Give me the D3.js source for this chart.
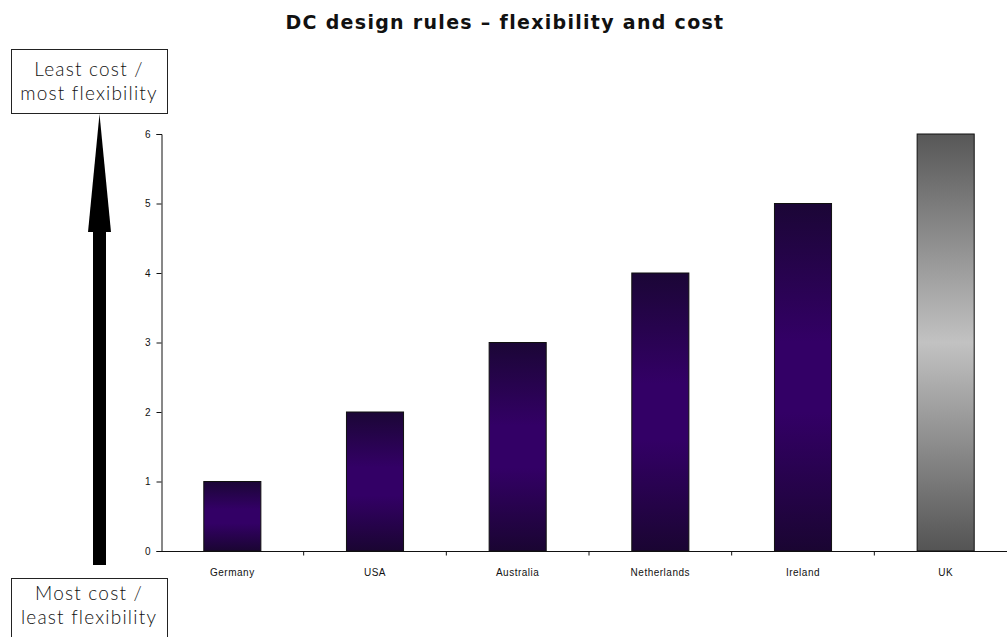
<!DOCTYPE html>
<html>
<head>
<meta charset="utf-8">
<script src="https://cdn.jsdelivr.net/npm/d3@7"></script>
<style>
  html, body { margin: 0; padding: 0; background: #fff; }
  svg { display: block; }
</style>
</head>
<body>
<svg id="chart" width="1007" height="637"></svg>
<script>
// Countries ranked by design-rule flexibility
const categories = ["Germany", "USA", "Australia", "Netherlands", "Ireland", "UK"];
const values = [1, 2, 3, 4, 5, 6];
const highlighted = ["UK"];
const yTicks = [0, 1, 2, 3, 4, 5, 6];
const titleText = "DC design rules \u2013 flexibility and cost";
const topLabel = ["Least cost /", "most flexibility"];
const bottomLabel = ["Most cost /", "least flexibility"];

const svg = d3.select("#chart");
const W = 1007, H = 637;
const margin = { left: 161, right: -10, top: 134, bottom: 86 };

const x = d3.scaleBand()
  .domain(categories)
  .range([margin.left, W - margin.right])
  .paddingInner(0.6)
  .paddingOuter(0.3);

const y = d3.scaleLinear()
  .domain([0, 6])
  .range([H - margin.bottom, margin.top]);

// Gradients
const defs = svg.append("defs");
const purple = defs.append("linearGradient").attr("id", "gPurple")
  .attr("x1", 0).attr("y1", 0).attr("x2", 0).attr("y2", 1);
[[0, "#1b0636"], [0.4, "#330066"], [0.6, "#330066"], [1, "#1a0532"]]
  .forEach(([o, c]) => purple.append("stop").attr("offset", o).attr("stop-color", c));
const gray = defs.append("linearGradient").attr("id", "gGray")
  .attr("x1", 0).attr("y1", 0).attr("x2", 0).attr("y2", 1);
[[0, "#575757"], [0.5, "#c2c2c2"], [1, "#545454"]]
  .forEach(([o, c]) => gray.append("stop").attr("offset", o).attr("stop-color", c));

// Title
svg.append("text")
  .attr("x", 505).attr("y", 29)
  .attr("text-anchor", "middle")
  .attr("font-family", "'DejaVu Sans', sans-serif")
  .attr("font-weight", "bold")
  .attr("font-size", 19)
  .attr("letter-spacing", 1.3)
  .attr("fill", "#111")
  .text(titleText);

// Bars
svg.append("g").selectAll("rect")
  .data(categories)
  .join("rect")
  .attr("x", d => x(d))
  .attr("width", x.bandwidth())
  .attr("y", (d, i) => y(values[i]))
  .attr("height", (d, i) => y(0) - y(values[i]))
  .attr("fill", d => highlighted.includes(d) ? "url(#gGray)" : "url(#gPurple)")
  .attr("stroke", "#111")
  .attr("stroke-width", 1);

// Y axis
const yAxis = d3.axisLeft(y).tickValues(yTicks).tickFormat(d3.format("d"))
  .tickSize(5).tickPadding(6);
const gy = svg.append("g").attr("transform", `translate(${margin.left + 0.5},0)`).call(yAxis);
gy.select(".domain").attr("stroke", "#111");
gy.selectAll(".tick line").attr("stroke", "#111");
gy.selectAll(".tick text")
  .attr("font-family", "'Liberation Sans', Arial, sans-serif")
  .attr("font-size", 10).attr("fill", "#111");

// X axis: ticks at band boundaries
const xAxisG = svg.append("g").attr("transform", `translate(0,${y(0) + 0.5})`);
xAxisG.append("line")
  .attr("x1", margin.left).attr("x2", W)
  .attr("stroke", "#111");
const step = x.step();
const boundaries = categories.slice(1).map(d => x(d) - step * x.paddingInner() / 2);
xAxisG.selectAll("line.tk").data(boundaries).join("line")
  .attr("class", "tk")
  .attr("x1", d => d).attr("x2", d => d)
  .attr("y1", 0).attr("y2", 4)
  .attr("stroke", "#111");
xAxisG.selectAll("text").data(categories).join("text")
  .attr("x", d => x(d) + x.bandwidth() / 2)
  .attr("y", 24)
  .attr("text-anchor", "middle")
  .attr("font-family", "'Liberation Sans', Arial, sans-serif")
  .attr("font-size", 10)
  .attr("letter-spacing", 0.5)
  .attr("fill", "#111")
  .text(d => d);

// Direction arrow
const arrow = svg.append("g");
arrow.append("rect")
  .attr("x", 93).attr("y", 228)
  .attr("width", 13).attr("height", 337)
  .attr("fill", "#000");
arrow.append("path")
  .attr("d", "M99.5,114 L111,232 L88,232 Z")
  .attr("fill", "#000");

// Label boxes
function labelBox(x0, y0, w, h, lines, ty) {
  svg.append("rect")
    .attr("x", x0 + 0.5).attr("y", y0 + 0.5)
    .attr("width", w).attr("height", h)
    .attr("fill", "#fff").attr("stroke", "#222").attr("stroke-width", 1);
  svg.append("g").selectAll("text").data(lines).join("text")
    .attr("font-family", "Lato, 'Open Sans', sans-serif")
    .attr("font-weight", 300)
    .attr("font-size", 19)
    .attr("letter-spacing", 1.2)
    .attr("fill", "#111")
    .attr("text-anchor", "middle")
    .attr("x", x0 + w / 2)
    .attr("y", (d, i) => ty + i * 23.5)
    .text(d => d);
}
labelBox(11, 49, 156, 64, topLabel, 76);
labelBox(11, 578, 156, 70, bottomLabel, 600);
</script>
</body>
</html>
